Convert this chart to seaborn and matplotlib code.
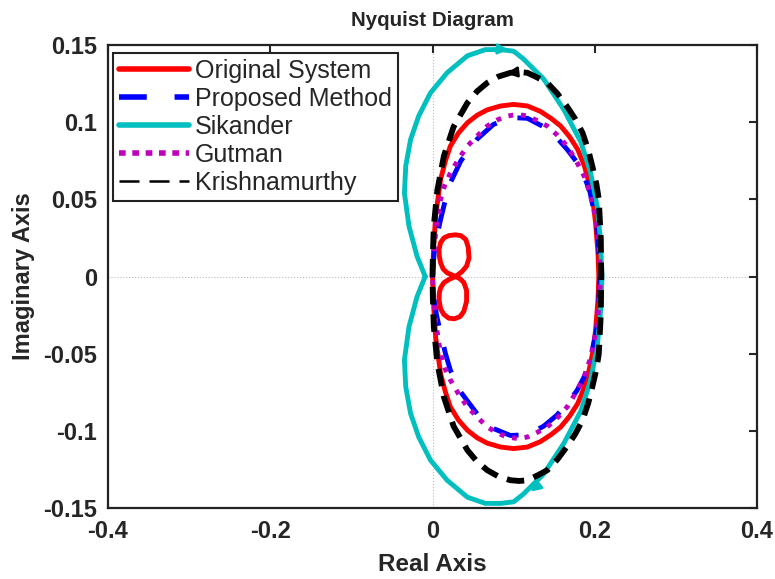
import numpy as np
import pandas as pd
import matplotlib
matplotlib.use("Agg")
import matplotlib.pyplot as plt
from matplotlib.lines import Line2D
import seaborn as sns

# ---- data (upper half, w from 0 to +inf; lower half is the mirror image) ----
orig_x = [0.0, 0.0015, 0.004, 0.010, 0.016, 0.022, 0.032, 0.043, 0.055, 0.0675, 0.084, 0.100, 0.117, 0.133,
          0.146, 0.158, 0.169, 0.179, 0.187, 0.193, 0.198, 0.201, 0.204, 0.205]
orig_y = [0.0, 0.020, 0.040, 0.063, 0.075, 0.0845, 0.093, 0.0996, 0.1045, 0.108, 0.1105, 0.1115, 0.1105, 0.107,
          0.1025, 0.0975, 0.0905, 0.0823, 0.072, 0.0607, 0.048, 0.0348, 0.015, 0.0]

loop_x = [0.0284, 0.036, 0.042, 0.045, 0.044, 0.041, 0.035, 0.028, 0.020, 0.014, 0.010, 0.008, 0.0085, 0.010, 0.013,
          0.018, 0.0284, 0.034, 0.0387, 0.042, 0.042, 0.0387, 0.034, 0.027, 0.020, 0.014, 0.010, 0.008, 0.0085,
          0.010, 0.014, 0.020, 0.0284]
loop_y = [0.0, 0.003, 0.0067, 0.012, 0.019, 0.024, 0.0265, 0.027, 0.0265, 0.025, 0.022, 0.0175, 0.013, 0.0089,
          0.005, 0.0024, 0.0, -0.0015, -0.004, -0.009, -0.016, -0.0225, -0.026, -0.0274, -0.027, -0.0246,
          -0.021, -0.0149, -0.0105, -0.0073, -0.004, -0.002, 0.0]

prop_x = [0.0, 0.002, 0.005, 0.010, 0.016, 0.022, 0.035, 0.055, 0.075, 0.096, 0.117, 0.137, 0.153, 0.166,
          0.178, 0.187, 0.194, 0.198, 0.202, 0.204, 0.2065]
prop_y = [0.0, 0.015, 0.025, 0.037, 0.050, 0.0607, 0.075, 0.089, 0.0985, 0.103, 0.1025, 0.097, 0.090, 0.0823,
          0.074, 0.065, 0.055, 0.045, 0.035, 0.025, 0.0]

sik_x = [-0.009, -0.019, -0.029, -0.0346, -0.033, -0.027, -0.017, -0.0025, 0.018, 0.043, 0.065, 0.084,
         0.100, 0.112, 0.137, 0.162, 0.183, 0.195, 0.203, 0.207, 0.209]
sik_y = [0.0, 0.013, 0.0326, 0.054, 0.0715, 0.0888, 0.104, 0.119, 0.132, 0.143, 0.147, 0.147,
         0.146, 0.141, 0.128, 0.108, 0.087, 0.067, 0.0456, 0.024, 0.0]

gut_x = [0.0, 0.0016, 0.004, 0.010, 0.015, 0.022, 0.032, 0.043, 0.055, 0.0675, 0.080, 0.092, 0.105, 0.117,
         0.129, 0.1415, 0.154, 0.166, 0.177, 0.187, 0.194, 0.199, 0.203, 0.205, 0.2075]
gut_y = [0.0, 0.013, 0.030, 0.050, 0.059, 0.067, 0.076, 0.0845, 0.091, 0.0975, 0.1015, 0.104, 0.105, 0.104,
         0.101, 0.0975, 0.0915, 0.0845, 0.075, 0.065, 0.054, 0.043, 0.031, 0.0196, 0.0]

kri_x = [0.0, 0.0005, 0.0016, 0.006, 0.014, 0.026, 0.043, 0.055, 0.0675, 0.081, 0.096, 0.107, 0.117, 0.129,
         0.1415, 0.154, 0.166, 0.176, 0.185, 0.192, 0.197, 0.202, 0.205, 0.2075, 0.208]
kri_y = [0.0, 0.015, 0.0326, 0.056, 0.078, 0.097, 0.1125, 0.120, 0.1255, 0.1295, 0.132, 0.1325, 0.132, 0.129,
         0.1255, 0.1185, 0.110, 0.102, 0.093, 0.082, 0.0715, 0.060, 0.050, 0.024, 0.0]

labels = ["Original System", "Proposed Method", "Sikander", "Gutman", "Krishnamurthy"]
x_ticks = [-0.4, -0.2, 0, 0.2, 0.4]
x_ticklabels = ["-0.4", "-0.2", "0", "0.2", "0.4"]
y_ticks = [-0.15, -0.1, -0.05, 0, 0.05, 0.1, 0.15]
y_ticklabels = ["-0.15", "-0.1", "-0.05", "0", "0.05", "0.1", "0.15"]

RED = "#FF0000"
BLUE = "#0000FF"
CYAN = "#00BFBF"
MAG = "#BF00BF"
BLACK = "#000000"

sns.set_style("white")
plt.rcParams["font.family"] = ["Liberation Sans", "DejaVu Sans"]


def closed(xs, ys):
    xs = np.asarray(xs, float)
    ys = np.asarray(ys, float)
    # full Nyquist contour: upper half then mirrored lower half
    fx = np.concatenate([xs, xs[::-1][1:]])
    fy = np.concatenate([ys, -ys[::-1][1:]])
    return pd.DataFrame({"re": fx, "im": fy})


fig = plt.figure(figsize=(7.75, 5.79), dpi=100)
ax = fig.add_axes([108 / 775, 1 - 508 / 579, 649 / 775, 463 / 579])

# zero lines
ax.axhline(0, color="#BBBBBB", lw=0.8, ls=":", zorder=0)
ax.axvline(0, color="#BBBBBB", lw=0.8, ls=":", zorder=0)

lw = 3.5
sns.lineplot(data=closed(orig_x, orig_y), x="re", y="im", sort=False, estimator=None,
             color=RED, lw=lw, ax=ax)
sns.lineplot(data=pd.DataFrame({"re": loop_x, "im": loop_y}), x="re", y="im", sort=False,
             estimator=None, color=RED, lw=lw, ax=ax)
sns.lineplot(data=closed(prop_x, prop_y), x="re", y="im", sort=False, estimator=None,
             color=BLUE, lw=lw, ax=ax)
ax.lines[-1].set_dashes((5.5, 4.5))
sns.lineplot(data=closed(sik_x, sik_y), x="re", y="im", sort=False, estimator=None,
             color=CYAN, lw=lw, ax=ax)
sns.lineplot(data=closed(gut_x, gut_y), x="re", y="im", sort=False, estimator=None,
             color=MAG, lw=lw, ax=ax)
ax.lines[-1].set_dashes((1.0, 1.6))
sns.lineplot(data=closed(kri_x, kri_y), x="re", y="im", sort=False, estimator=None,
             color=BLACK, lw=4.2, ax=ax)
ax.lines[-1].set_dashes((3.0, 1.7))

# direction arrows
arr = dict(arrowstyle="-|>", lw=2.0, mutation_scale=15)
ax.annotate("", xy=(0.097, 0.1468), xytext=(0.086, 0.1472), arrowprops=dict(color=CYAN, **arr))
ax.annotate("", xy=(0.118, -0.1405), xytext=(0.130, -0.1355), arrowprops=dict(color=CYAN, **arr))
ax.annotate("", xy=(0.088, 0.1315), xytext=(0.100, 0.1322), arrowprops=dict(color=BLACK, **arr))

ax.set_xlim(-0.4, 0.4)
ax.set_ylim(-0.15, 0.15)
ax.set_xticks(x_ticks)
ax.set_xticklabels(x_ticklabels, fontsize=17, fontweight="bold")
ax.set_yticks(y_ticks)
ax.set_yticklabels(y_ticklabels, fontsize=17, fontweight="bold")
ax.tick_params(direction="in", length=6, width=1.5, top=True, right=True)
ax.tick_params(axis="x", pad=9)
ax.tick_params(axis="y", pad=8)
for s in ax.spines.values():
    s.set_linewidth(1.6)
    s.set_color("#222222")

ax.set_xlabel("Real Axis", fontsize=17.5, fontweight="bold", labelpad=7)
ax.set_ylabel("Imaginary Axis", fontsize=17, fontweight="bold", labelpad=6)
ax.set_title("Nyquist Diagram", fontsize=14.8, fontweight="bold", pad=14)

handles = [
    Line2D([], [], color=RED, lw=4),
    Line2D([], [], color=BLUE, lw=4, dashes=(5.0, 5.0)),
    Line2D([], [], color=CYAN, lw=4),
    Line2D([], [], color=MAG, lw=4, dashes=(1.2, 1.2)),
    Line2D([], [], color=BLACK, lw=1.8, dashes=(8, 4)),
]
leg = ax.legend(handles, labels, loc="upper left", bbox_to_anchor=(0.008, 0.983),
                borderaxespad=0, fontsize=18, handlelength=2.8, handletextpad=0.22,
                labelspacing=0.16, borderpad=0.25, frameon=True, fancybox=False,
                framealpha=1, edgecolor="#222222")
leg.get_frame().set_linewidth(1.5)

fig.savefig("out.png", dpi=100)
